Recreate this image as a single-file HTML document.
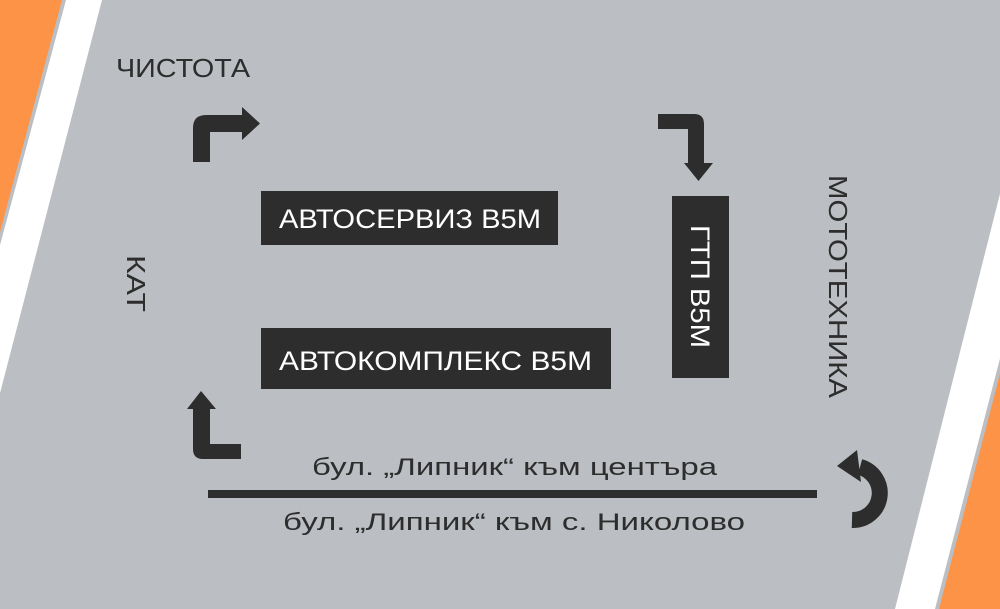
<!DOCTYPE html>
<html><head><meta charset="utf-8"><style>
html,body{margin:0;padding:0;background:#bbbec2;}
svg{display:block;}
text{font-family:"Liberation Sans","DejaVu Sans",sans-serif;}
</style></head><body>
<svg width="1000" height="609" viewBox="0 0 1000 609" xmlns="http://www.w3.org/2000/svg">
<rect width="1000" height="609" fill="#bbbec2"/>
<!-- left stripes -->
<polygon points="0,0 102,0 -56,609 0,609" fill="#ffffff"/>
<polygon points="0,0 66,0 0,245" fill="#bbbec2"/>
<polygon points="0,0 62,0 0,232" fill="#fc9346"/>
<!-- right stripes -->
<polygon points="1049,0 1100,0 1100,609 895,609" fill="#ffffff"/>
<polygon points="1093,0 1100,0 1100,609 935,609" fill="#bbbec2"/>
<polygon points="1097,0 1100,0 1100,609 939,609" fill="#fc9346"/>

<g fill="#2d2d2d">
<!-- top-left arrow -->
<path d="M193,162 L193,128 Q193,115 206,115 L242,115 L242,107 L260,123.5 L242,140 L242,132 L210,132 L210,162 Z"/>
<!-- top-right arrow -->
<path d="M658,114 L694,114 Q704,114 704,124 L704,163 L713,163 L698.5,181 L684,163 L688,163 L688,129 L658,129 Z"/>
<!-- bottom-left arrow -->
<path d="M201,391 L216,409 L210,409 L210,444 L241,444 L241,459 L203,459 Q193,459 193,449 L193,409 L187,409 Z"/>
<!-- line -->
<rect x="208" y="490" width="609" height="8"/>
<!-- boxes -->
<rect x="261" y="191" width="297" height="54"/>
<rect x="261" y="328" width="350" height="61"/>
<rect x="672" y="196" width="57" height="182"/>
</g>
<!-- U-turn -->
<path d="M852,520 A27,27 0 0 0 860,467" fill="none" stroke="#2d2d2d" stroke-width="16"/>
<polygon points="837,466 857,450 861,482" fill="#2d2d2d"/>

<g fill="#ffffff" font-size="27">
<text x="279" y="228" textLength="262" lengthAdjust="spacingAndGlyphs">АВТОСЕРВИЗ В5М</text>
<text x="279" y="370" textLength="313" lengthAdjust="spacingAndGlyphs">АВТОКОМПЛЕКС В5М</text>
<text transform="translate(691,225) rotate(90)" x="0" y="0" textLength="123" lengthAdjust="spacingAndGlyphs">ГТП В5М</text>
</g>
<g fill="#2d2d2d" font-size="26">
<text x="116" y="77" textLength="134" lengthAdjust="spacingAndGlyphs">ЧИСТОТА</text>
<text transform="translate(127,255) rotate(90)" textLength="57" lengthAdjust="spacingAndGlyphs">КАТ</text>
<text transform="translate(829,175) rotate(90)" textLength="223" lengthAdjust="spacingAndGlyphs">МОТОТЕХНИКА</text>
<text x="312" y="475" font-size="24" textLength="405" lengthAdjust="spacingAndGlyphs">бул. „Липник“ към центъра</text>
<text x="283" y="530" font-size="24" textLength="462" lengthAdjust="spacingAndGlyphs">бул. „Липник“ към с. Николово</text>
</g>
</svg>
</body></html>
